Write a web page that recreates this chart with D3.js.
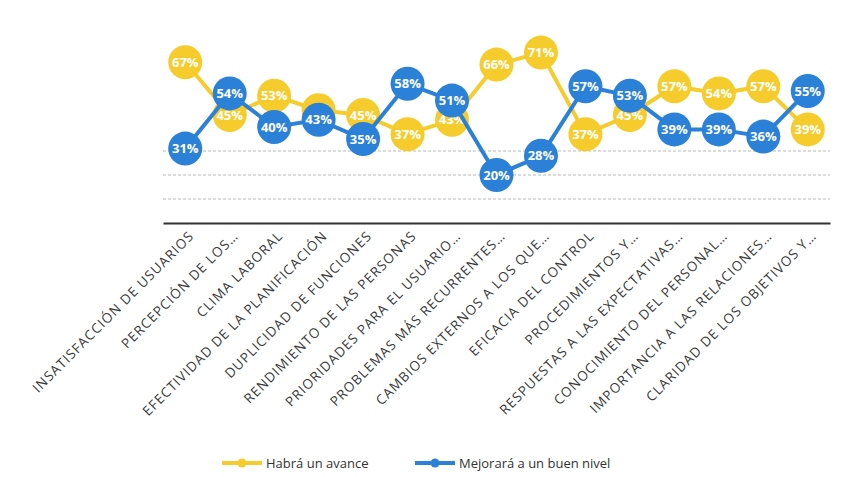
<!DOCTYPE html>
<html>
<head>
<meta charset="utf-8">
<script src="https://cdn.jsdelivr.net/npm/d3@7"></script>
<style>
  body { margin: 0; background: #fff; }
  svg, svg text { font-family: "Open Sans", sans-serif; }
</style>
</head>
<body>
<div id="chart"></div>
<script>
// categories (x axis labels, truncated as in the original)
var categories = [
  "INSATISFACCIÓN DE USUARIOS",
  "PERCEPCIÓN DE LOS…",
  "CLIMA LABORAL",
  "EFECTIVIDAD DE LA PLANIFICACIÓN",
  "DUPLICIDAD DE FUNCIONES",
  "RENDIMIENTO DE LAS PERSONAS",
  "PRIORIDADES PARA EL USUARIO…",
  "PROBLEMAS MÁS RECURRENTES…",
  "CAMBIOS EXTERNOS A LOS QUE…",
  "EFICACIA DEL CONTROL",
  "PROCEDIMIENTOS Y…",
  "RESPUESTAS A LAS EXPECTATIVAS…",
  "CONOCIMIENTO DEL PERSONAL…",
  "IMPORTANCIA A LAS RELACIONES…",
  "CLARIDAD DE LOS OBJETIVOS Y…"
];
var avance = [67, 45, 53, 47, 45, 37, 43, 66, 71, 37, 45, 57, 54, 57, 39];
var buenNivel = [31, 54, 40, 43, 35, 58, 51, 20, 28, 57, 53, 39, 39, 36, 55];
var seriesNames = ["Habrá un avance", "Mejorará a un buen nivel"];
var gridTicks = [10, 20, 30];

var width = 844, height = 477;
var margin = { top: 31, right: 14, bottom: 254, left: 163 };
var w = width - margin.left - margin.right,
    h = height - margin.top - margin.bottom;

var yellow = "#f6cc2c", blue = "#2b80d8";

var svg = d3.select("#chart").append("svg")
  .attr("width", width)
  .attr("height", height);

var g = svg.append("g")
  .attr("transform", "translate(" + margin.left + "," + margin.top + ")");

var x = d3.scaleBand().domain(categories).range([0, w]);
var y = d3.scaleLinear().domain([0, 80]).range([h, 0]);
var cx = function(i) { return x(categories[i]) + x.bandwidth() / 2; };

// gridlines
g.selectAll(".grid")
  .data(gridTicks)
  .enter().append("line")
  .attr("x1", 0).attr("x2", w)
  .attr("y1", function(d) { return y(d); })
  .attr("y2", function(d) { return y(d); })
  .attr("stroke", "#b8b8b8")
  .attr("stroke-width", 1)
  .attr("stroke-dasharray", "3,2");

// x axis
var xAxis = g.append("g")
  .attr("transform", "translate(0," + h + ")")
  .call(d3.axisBottom(x).tickSize(0).tickPadding(0));
xAxis.attr("font-family", null);
xAxis.select(".domain").attr("stroke", "#333").attr("stroke-width", 2);
xAxis.selectAll("text")
  .attr("fill", "#3a3a3a")
  .style("font-family", "'Open Sans', sans-serif")
  .style("font-size", "13.5px")
  .style("letter-spacing", "1px")
  .style("text-anchor", "end")
  .attr("dx", "4px")
  .attr("dy", "0.7em")
  .attr("transform", "translate(0,10) rotate(-45)");

var line = d3.line()
  .x(function(d, i) { return cx(i); })
  .y(function(d) { return y(d); });

function drawSeries(values, color) {
  g.append("path")
    .datum(values)
    .attr("fill", "none")
    .attr("stroke", color)
    .attr("stroke-width", 4)
    .attr("d", line);

  var pts = g.append("g").selectAll("g")
    .data(values)
    .enter().append("g")
    .attr("transform", function(d, i) { return "translate(" + cx(i) + "," + y(d) + ")"; });

  pts.append("circle")
    .attr("r", 17)
    .attr("fill", color);

  pts.append("text")
    .attr("text-anchor", "middle")
    .attr("dy", "0.36em")
    .attr("fill", "#fff")
    .style("font-size", "13px")
    .style("font-weight", "bold")
    .text(function(d) { return d + "%"; });
}

drawSeries(avance, yellow);
drawSeries(buenNivel, blue);

// legend
var legend = svg.append("g").attr("transform", "translate(222,463)");
var items = [
  { name: seriesNames[0], color: yellow, x: 0 },
  { name: seriesNames[1], color: blue, x: 193 }
];
var li = legend.selectAll("g")
  .data(items)
  .enter().append("g")
  .attr("transform", function(d) { return "translate(" + d.x + ",0)"; });
li.append("line")
  .attr("x1", 0).attr("x2", 40)
  .attr("stroke", function(d) { return d.color; })
  .attr("stroke-width", 4);
li.append("circle")
  .attr("cx", 20).attr("r", 4.5)
  .attr("fill", function(d) { return d.color; });
li.append("text")
  .attr("x", 44)
  .attr("dy", "0.35em")
  .attr("fill", "#333")
  .style("font-size", "13px")
  .text(function(d) { return d.name; });
</script>
</body>
</html>
